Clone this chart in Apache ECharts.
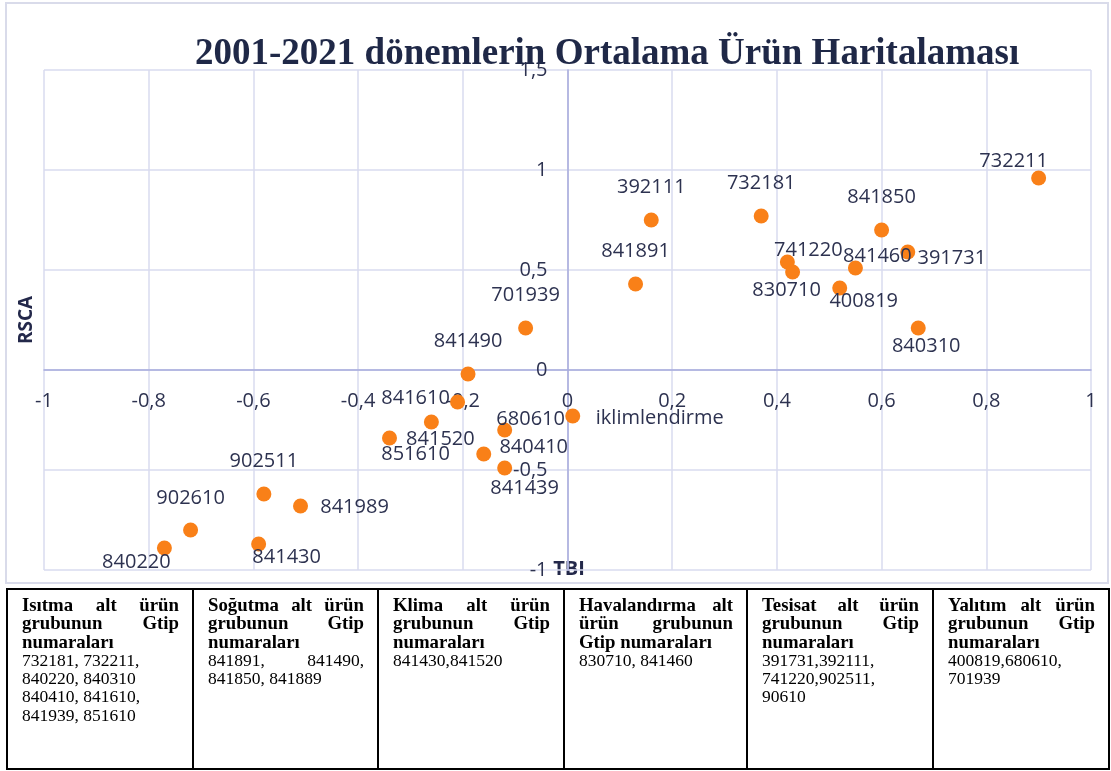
<!DOCTYPE html>
<html style="height: 100%">
<head>
    <meta charset="utf-8">
    <script src="https://cdn.jsdelivr.net/npm/echarts@6.0.0/dist/echarts.min.js"></script>
    <style>
        body { margin: 0; background: #fff; }
        #container { position: absolute; left: 0; top: 0; width: 1111px; height: 771px; }
        #gtip { position: absolute; left: 6px; top: 588px; width: 1102px; height: 182px;
                border-collapse: collapse; font-family: 'Liberation Serif', serif;
                font-size: 17.5px; line-height: 18.3px; color: #000; table-layout: fixed; }
        #gtip td { border: 2px solid #000; vertical-align: top; padding: 6px 13px 0 14px;
                   text-align: justify; box-sizing: border-box; }
        #gtip b { display: block; text-align: justify; text-align-last: left; font-size: 18.8px; }
    </style>
</head>
<body>
    <div id="container"></div>
    <table id="gtip"><colgroup></colgroup><tr></tr></table>
    <script type="text/javascript">
        // ürün kodları ve değerleri (TBI, RSCA)
        const names = ['732211', '392111', '732181', '841850', '741220', '841460', '391731', '830710',
            '841891', '400819', '840310', '701939', '841490', '841610', '841520', '851610',
            '840410', '680610', '841439', 'iklimlendirme', '902511', '841989', '902610', '841430', '840220'];
        const tbi = [0.90, 0.16, 0.37, 0.60, 0.42, 0.55, 0.65, 0.43,
            0.13, 0.52, 0.67, -0.08, -0.19, -0.21, -0.26, -0.34,
            -0.16, -0.12, -0.12, 0.01, -0.58, -0.51, -0.72, -0.59, -0.77];
        const rsca = [0.96, 0.75, 0.77, 0.70, 0.54, 0.51, 0.59, 0.49,
            0.43, 0.41, 0.21, 0.21, -0.02, -0.16, -0.26, -0.34,
            -0.42, -0.30, -0.49, -0.23, -0.62, -0.68, -0.80, -0.87, -0.89];

        // etiket kaydırmaları (px)
        const labelOffset = {
            '732211': [-25, -17], '392111': [0, -33], '732181': [0, -33], '841850': [0, -33],
            '741220': [21, -12], '841460': [22, -12], '391731': [44, 6], '830710': [-6, 18],
            '841891': [0, -33], '400819': [24, 13], '840310': [8, 18], '701939': [0, -33],
            '841490': [0, -33], '841610': [-42, -4], '841520': [9, 17], '851610': [26, 16],
            '840410': [50, -7], '680610': [26, -11], '841439': [20, 20], 'iklimlendirme': [87, 2],
            '902511': [0, -33], '841989': [54, 1], '902610': [0, -32], '841430': [28, 13], '840220': [-28, 14]
        };

        // tablo
        const groupTitles = ['Isıtma alt ürün grubunun Gtip numaraları', 'Soğutma alt ürün grubunun Gtip numaraları',
            'Klima alt ürün grubunun Gtip numaraları', 'Havalandırma alt ürün grubunun Gtip numaraları',
            'Tesisat alt ürün grubunun Gtip numaraları', 'Yalıtım alt ürün grubunun Gtip numaraları'];
        const groupCodes = ['732181, 732211,<br>840220, 840310<br>840410, 841610,<br>841939, 851610',
            '<span style="display:block;text-align:justify;text-align-last:justify">841891, 841490,</span>841850, 841889',
            '841430,841520', '830710, 841460', '391731,392111,<br>741220,902511,<br>90610', '400819,680610,<br>701939'];
        const colWidths = [186, 185, 186, 183, 186, 176];

        const cols = document.querySelector('#gtip colgroup');
        const row = document.querySelector('#gtip tr');
        groupTitles.forEach(function (t, i) {
            const col = document.createElement('col');
            col.style.width = colWidths[i] + 'px';
            cols.appendChild(col);
            const td = document.createElement('td');
            td.innerHTML = '<b>' + t + '</b>' + groupCodes[i];
            row.appendChild(td);
        });

        var myChart = echarts.init(document.getElementById('container'));
        const textColor = '#2d3250';
        const fmt = function (v) { return String(Math.round(v * 10) / 10).replace('.', ','); };

        // eksenleri sıfır noktasına taşı
        const gridL = 44, gridR = 20, gridT = 70, gridB = 201;
        const xMin = -1, xMax = 1, yMin = -1, yMax = 1.5;
        const plotW = 1111 - gridL - gridR, plotH = 771 - gridT - gridB;
        const xOff = -plotW * (0 - xMin) / (xMax - xMin);
        const yOff = -plotH * (0 - yMin) / (yMax - yMin);

        option = {
            animation: false,
            title: {
                text: '2001-2021 dönemlerin Ortalama Ürün Haritalaması',
                left: 190, top: 31,
                textStyle: { fontFamily: 'Liberation Serif', fontSize: 37, fontWeight: 'bold', color: '#1f2847' }
            },
            grid: { left: gridL, right: gridR, top: gridT, bottom: gridB },
            xAxis: {
                type: 'value', min: xMin, max: xMax, interval: 0.2,
                offset: yOff,
                axisLine: { onZero: false, lineStyle: { color: '#a7abdd', width: 1.5 } },
                axisTick: { show: false },
                axisLabel: { formatter: fmt, fontFamily: 'Open Sans', fontSize: 20, color: textColor, margin: 21 },
                splitLine: { lineStyle: { color: '#d9dbef', width: 1.5 } }
            },
            yAxis: {
                type: 'value', min: yMin, max: yMax, interval: 0.5,
                offset: xOff,
                axisLine: { onZero: false, lineStyle: { color: '#a7abdd', width: 1.5 } },
                axisTick: { show: false },
                axisLabel: { formatter: fmt, fontFamily: 'Open Sans', fontSize: 20, color: textColor, margin: 20 },
                splitLine: { lineStyle: { color: '#d9dbef', width: 1.5 } }
            },
            graphic: [
                { type: 'rect', shape: { x: 6, y: 3, width: 1102, height: 580 }, silent: true, z: -1,
                  style: { fill: 'none', stroke: '#d9dbea', lineWidth: 2 } },
                { type: 'text', x: 27, y: 320, rotation: Math.PI / 2, silent: true,
                  style: { text: 'RSCA', fontFamily: 'Open Sans', fontWeight: 'bold', fontSize: 19,
                           fill: '#23284a', align: 'center', verticalAlign: 'middle' } },
                { type: 'text', x: 569, y: 569, silent: true,
                  style: { text: 'TBI', fontFamily: 'Open Sans', fontWeight: 'bold', fontSize: 20,
                           fill: '#23284a', align: 'center', verticalAlign: 'middle' } }
            ],
            series: [{
                type: 'scatter',
                symbolSize: 15,
                itemStyle: { color: '#f98018', opacity: 1 },
                label: {
                    show: true, position: 'inside',
                    fontFamily: 'Open Sans', fontSize: 20, color: textColor,
                    formatter: function (p) { return p.name; }
                },
                data: names.map(function (n, i) {
                    return { name: n, value: [tbi[i], rsca[i]], label: { offset: labelOffset[n] } };
                })
            }]
        };

        myChart.setOption(option);
    </script>
</body>
</html>
